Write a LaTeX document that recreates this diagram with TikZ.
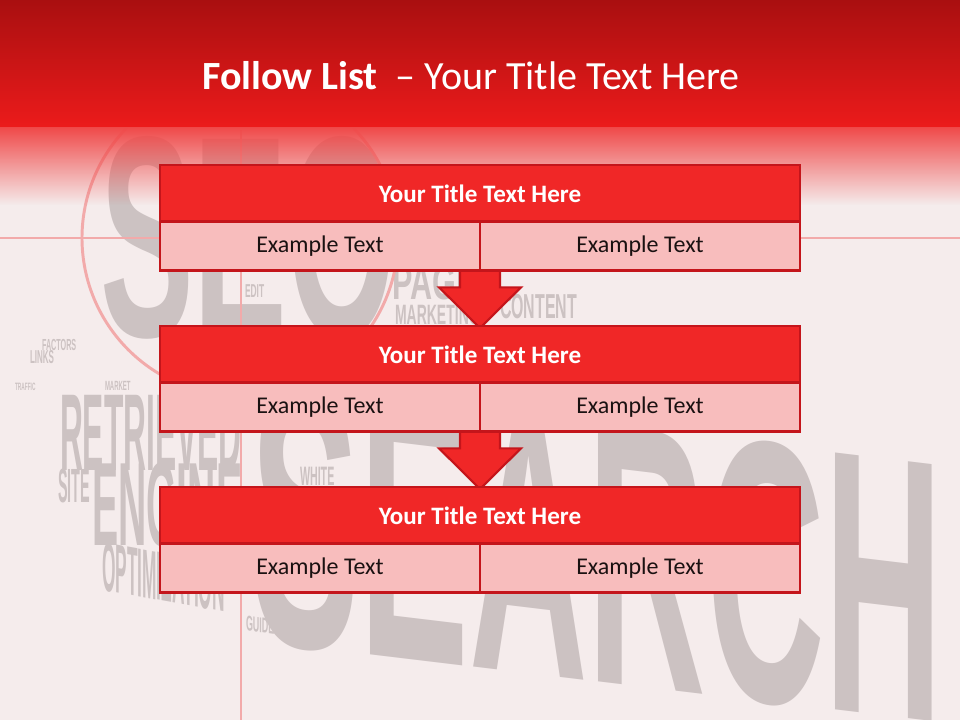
\documentclass[tikz,border=0pt]{standalone}
\usepackage{fontspec}
\setmainfont{Carlito}
\newfontfamily\bgfont{Liberation Sans}
\usetikzlibrary{calc,fadings}
\definecolor{hdrtop}{HTML}{A90F10}
\definecolor{hdrbot}{HTML}{EC1B1B}
\definecolor{bgpink}{HTML}{F5ECEC}
\definecolor{bggray}{HTML}{CCC2C2}
\definecolor{linepink}{HTML}{F2AAAA}
\definecolor{titlered}{HTML}{F02727}
\definecolor{cellpink}{HTML}{F8BDBD}
\definecolor{borderred}{HTML}{C4151B}
\definecolor{textdark}{HTML}{1A1111}
\tikzfading[name=fadedown, top color=transparent!0, bottom color=transparent!100]
\pgfdeclarelayer{bglayer}
\pgfdeclarelayer{arrlayer}
\pgfsetlayers{bglayer,arrlayer,main}
\newcommand{\bgw}[3]{\scalebox{#2}[1]{\fontsize{#1}{#1}\selectfont #3}}
\tikzset{
  titleband/.style={draw=borderred, line width=2.2pt, fill=titlered, text=white,
    font=\fontsize{18.8}{22}\selectfont\bfseries, minimum width=480pt, minimum height=42.5pt,
    inner sep=0pt, outer sep=0pt, anchor=north west},
  cellbox/.style={draw=borderred, line width=2.2pt, fill=cellpink, text=textdark,
    font=\fontsize{18}{22}\selectfont, minimum width=240pt, minimum height=36.5pt,
    inner sep=0pt, outer sep=0pt, anchor=north west},
  downarrow/.style={draw=borderred, line width=1.6pt, fill=titlered, line join=miter},
  bgword/.style={text=bggray, font=\bgfont\bfseries, inner sep=0pt, outer sep=0pt, anchor=base west},
  guide/.style={draw=linepink, line width=2.2pt}
}
\begin{document}
\begin{tikzpicture}[x=0.75pt,y=-0.75pt]
\useasboundingbox (0,0) rectangle (960,720);

% ---------- background ----------
\begin{pgfonlayer}{bglayer}
\fill[bgpink] (0,0) rectangle (960,720);
% word cloud
\node[bgword] (wseo) at (100,336) {\bgw{215}{0.49}{SEO}};
\begin{scope}[shift={(250,640)}, yslant=-0.12]
  \node[bgword, transform shape] (wsearch) at (0,0) {\bgw{280}{0.44}{SEARCH}};
\end{scope}
\node[bgword] (wret) at (60,470) {\bgw{82}{0.29}{RETRIEVED}};
\node[bgword] (weng) at (92,545) {\bgw{89}{0.33}{ENGINE}};
\node[bgword] (wsite) at (58,502) {\bgw{36}{0.3}{SITE}};
\begin{scope}[shift={(102,590)}, yslant=-0.18]
  \node[bgword, transform shape] (wopt) at (0,0) {\bgw{52}{0.25}{OPTIMIZATION}};
\end{scope}
\begin{scope}[shift={(246,630)}, yslant=-0.15]
  \node[bgword, transform shape] (wguide) at (0,0) {\bgw{16}{0.42}{GUIDELINES}};
\end{scope}
\node[bgword] (wwhite) at (300,485) {\bgw{20}{0.4}{WHITE}};
\node[bgword] (wpage) at (392,300) {\bgw{37}{0.62}{PAGE}};
\node[bgword] (wmark) at (395,325) {\bgw{21}{0.5}{MARKETING}};
\node[bgword] (wcont) at (500,318) {\bgw{26}{0.46}{CONTENT}};
\node[bgword] (wlinks) at (30,363) {\bgw{14}{0.43}{LINKS}};
\node[bgword] (wfact) at (42,350) {\bgw{12}{0.45}{FACTORS}};
\node[bgword] (wtraf) at (15,390) {\bgw{8}{0.45}{TRAFFIC}};
\node[bgword] (wmarket) at (105,390) {\bgw{10}{0.45}{MARKET}};
\node[bgword] (wedit) at (245,297) {\bgw{14}{0.45}{EDIT}};
\node[bgword] (wgoog) at (233,322) {\bgw{11}{0.45}{GOOGLE'S}};
% target guides
\draw[guide] (240,238) circle[radius=158];
\draw[guide] (0,238) -- (960,238);
\draw[guide] (241,130) -- (241,720);
% header
\shade[top color=hdrtop, bottom color=hdrbot] (0,0) rectangle (960,127.5);
\fill[hdrbot!80!white, path fading=fadedown] (0,127) rectangle (960,205);
\end{pgfonlayer}

% ---------- title ----------
\node[text=white, font=\fontsize{30}{34}\selectfont, inner sep=0pt] (title) at (471,76)
  {\textbf{Follow List}\ \ – Your Title Text Here};

% ---------- boxes ----------
\node[titleband] (t1) at (160,165) {Your Title Text Here};
\node[cellbox] (l1) at (t1.south west) {Example Text};
\node[cellbox] (r1) at (l1.north east) {Example Text};

\node[titleband] (t2) at (160,326) {Your Title Text Here};
\node[cellbox] (l2) at (t2.south west) {Example Text};
\node[cellbox] (r2) at (l2.north east) {Example Text};

\node[titleband] (t3) at (160,487) {Your Title Text Here};
\node[cellbox] (l3) at (t3.south west) {Example Text};
\node[cellbox] (r3) at (l3.north east) {Example Text};

% ---------- arrows ----------
\begin{pgfonlayer}{arrlayer}
\draw[downarrow] ($(l1.south east)+(-20,-10)$) -- ($(l1.south east)+(-20,17)$)
  -- ($(l1.south east)+(-41,17)$) -- ($(t2.north)+(0,2)$) -- ($(l1.south east)+(41,17)$)
  -- ($(l1.south east)+(20,17)$) -- ($(l1.south east)+(20,-10)$) -- cycle;
\draw[downarrow] ($(l2.south east)+(-20,-10)$) -- ($(l2.south east)+(-20,17)$)
  -- ($(l2.south east)+(-41,17)$) -- ($(t3.north)+(0,2)$) -- ($(l2.south east)+(41,17)$)
  -- ($(l2.south east)+(20,17)$) -- ($(l2.south east)+(20,-10)$) -- cycle;
\end{pgfonlayer}
\end{tikzpicture}
\end{document}
